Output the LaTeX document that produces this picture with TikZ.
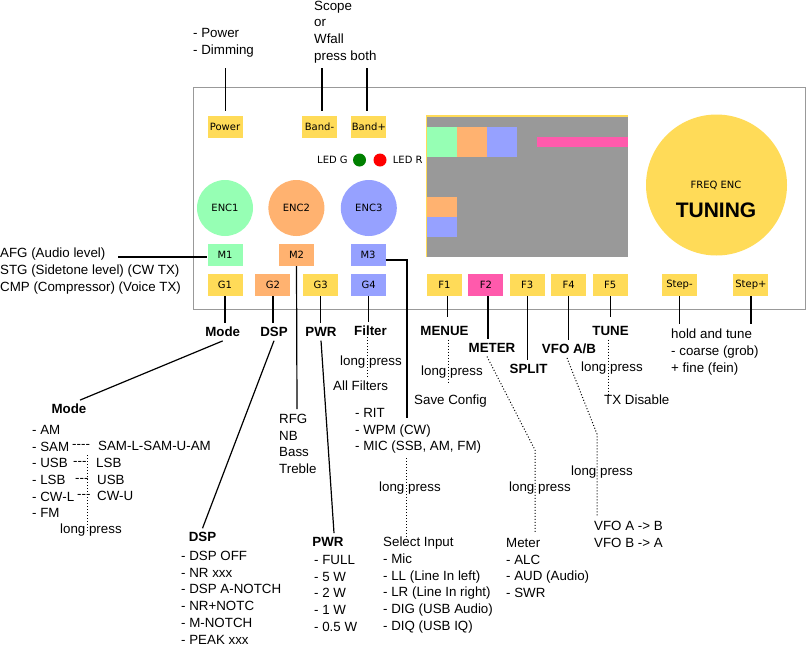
\documentclass[tikz,border=0pt]{standalone}
\usepackage{fontspec}
\setmainfont{Liberation Sans}[Ligatures=TeXOff]
\newfontfamily\btnfont{DejaVu Sans}
\usepackage{tikz}
\usetikzlibrary{positioning}
\definecolor{yelclr}{RGB}{255,219,88}
\definecolor{grnclr}{RGB}{150,255,180}
\definecolor{orgclr}{RGB}{255,178,112}
\definecolor{bluclr}{RGB}{150,161,255}
\definecolor{pnkclr}{RGB}{255,90,172}
\definecolor{scrclr}{RGB}{153,153,153}
\definecolor{boxclr}{RGB}{153,153,153}
\definecolor{ledgclr}{RGB}{0,128,0}
\definecolor{ledrclr}{RGB}{255,0,0}
\tikzset{ %
  ,every node/.style={inner sep=0}
  ,btn/.style={fill=yelclr, minimum width=35pt, minimum height=22pt, node distance=12.5pt, font=\btnfont\fontsize{10}{12}\selectfont}
  ,enc/.style={circle, minimum size=56pt, font=\btnfont\fontsize{10}{12}\selectfont}
  ,led/.style={circle, minimum size=13pt}
  ,ledtxt/.style={anchor=west, font=\btnfont\fontsize{10}{12}\selectfont}
  ,txt/.style={anchor=west, font=\fontsize{13.33}{16.7}\selectfont}
  ,lst/.style={anchor=north west, align=left, font=\fontsize{13.33}{16.7}\selectfont}
  ,hd/.style={outer sep=4pt, font=\bfseries\fontsize{13.33}{16.7}\selectfont}
  ,wire/.style={line width=1.2pt}
  ,dotwire/.style={dotted, line width=1pt}
}

\begin{document}
\begin{tikzpicture}[x=1pt, y=-1pt]
  \useasboundingbox (0,0) rectangle (806,646);

  % panel and screen
  \draw[boxclr, line width=1pt] (193,87) rectangle (805,309);
  \fill[yelclr] (426,115) rectangle (628,257);
  \fill[scrclr] (427,117) rectangle (628,257);
  \fill[grnclr] (427,127) rectangle (457,157);
  \fill[orgclr] (457,127) rectangle (487,157);
  \fill[bluclr] (487,127) rectangle (517,157);
  \fill[pnkclr] (537,137) rectangle (628,147);
  \fill[orgclr] (427,197) rectangle (457,217);
  \fill[bluclr] (427,217) rectangle (457,237);

  % buttons and encoders
  \node[btn] (pwr) at (225,127) {Power};
  \node[btn] (bandm) at (319.5,127) {Band-};
  \node[btn, right=14pt of bandm] (bandp) {Band+};
  \node[ledtxt] (ledgtxt) at (317,160) {LED G};
  \node[led, fill=ledgclr] (ledg) at (359.5,160) {};
  \node[led, fill=ledrclr] (ledr) at (380,160) {};
  \node[ledtxt] (ledrtxt) at (392.7,160) {LED R};
  \node[enc, fill=grnclr] (enc1) at (225,208) {ENC1};
  \node[enc, fill=orgclr, right=15pt of enc1] (enc2) {ENC2};
  \node[enc, fill=bluclr, right=16pt of enc2] (enc3) {ENC3};
  \node[btn, fill=grnclr] (m1) at (225,255) {M1};
  \node[btn, fill=orgclr] (m2) at (296.5,255) {M2};
  \node[btn, fill=bluclr] (m3) at (368,255) {M3};
  \node[btn] (g1) at (225,285) {G1};
  \node[btn, fill=orgclr, right=of g1] (g2) {G2};
  \node[btn, right=of g2] (g3) {G3};
  \node[btn, fill=bluclr, right=of g3] (g4) {G4};
  \node[btn] (f1) at (444.5,285) {F1};
  \node[btn, fill=pnkclr, right=6pt of f1] (f2) {F2};
  \node[btn, right=6pt of f2] (f3) {F3};
  \node[btn, right=6pt of f3] (f4) {F4};
  \node[btn, right=6pt of f4] (f5) {F5};
  \node[btn] (stepm) at (679.5,285) {Step-};
  \node[btn, right=36pt of stepm] (stepp) {Step+};
  \node[enc, fill=yelclr, minimum size=141pt] (freq) at (716.5,185) {};
  \node[font=\btnfont\fontsize{10}{12}\selectfont] (freqtxt) at (716,185) {FREQ ENC};
  \node[font=\bfseries\fontsize{21}{24}\selectfont] (tuning) at (716,210) {TUNING};

  % top notes
  \node[lst] (pwrnote) at (193,28) {- Power\\- Dimming};
  \node[lst] (bandnote) at (314,0.7) {Scope\\or\\Wfall\\press both};
  \coordinate (pwrtop) at (225.7,68);
  \coordinate (bandmtop) at (322,68);
  \coordinate (bandptop) at (367,68);
  \draw[wire, shorten >=5pt] (pwrtop) -- (pwrtop |- pwr.north);
  \draw[wire, shorten >=5pt] (bandmtop) -- (bandmtop |- bandm.north);
  \draw[wire, shorten >=5pt] (bandptop) -- (bandptop |- bandp.north);

  % M row
  \node[lst] (afgnote) at (0,248) {AFG (Audio level)\\STG (Sidetone level) (CW TX)\\CMP (Compressor) (Voice TX)};
  \coordinate (afgend) at (118,257);
  \draw[wire] (afgend) -- (afgend -| m1.west);
  \coordinate (m2end) at (297,409);
  \draw[wire] (m2.south) -- (m2end);
  \node[lst] (m2note) at (279,414) {RFG\\NB\\Bass\\Treble};
  \coordinate (m3end) at (407,418);
  \draw[wire] ([yshift=-5pt]m3.east) -| (m3end);
  \node[lst] (m3note) at (355,408) {- RIT\\- WPM (CW)\\- MIC (SSB, AM, FM)};
  \coordinate (mictop) at (406,458);
  \node[txt] (miclp) at (379,488) {long press};
  \node[lst] (inplst) at (383,537) {Select Input\\- Mic\\- LL (Line In left)\\- LR (Line In right)\\- DIG (USB Audio)\\- DIQ (USB IQ)};
  \draw[dotwire] (mictop) -- (mictop |- inplst.north);

  % G row
  \node[hd] (lmode) at (222.7,332) {Mode};
  \node[hd] (ldsp) at (274,332) {DSP};
  \node[hd] (lpwr) at (321,332) {PWR};
  \node[hd] (lfilter) at (370.5,331) {Filter};
  \draw[wire] (g1.south) -- (g1.south |- lmode.north);
  \draw[wire] (g2.south) -- (g2.south |- ldsp.north);
  \draw[wire] (g3.south) -- (g3.south |- lpwr.north);
  \draw[wire] (g4.south) -- (g4.south |- lfilter.north);
  \node[txt] (fltlp) at (340,362) {long press};
  \node[txt] (fltall) at (333,386) {All Filters};
  \coordinate (flttop) at (367,337);
  \draw[dotwire, shorten >=3pt] (flttop) -- (flttop |- fltall.north);

  \node[hd] (hmode) at (69,409) {Mode};
  \draw[wire] (lmode.south) -- ([xshift=11pt]hmode.north);
  \node[lst] (modelst) at (32,425) {- AM\\- SAM\\- USB\\- LSB\\- CW-L\\- FM};
  \node[txt] (samdash) at (72,446) {----};
  \node[txt] (samalt) at (98,446) {SAM-L-SAM-U-AM};
  \node[txt] (usbdash) at (73,463) {---};
  \node[txt] (usbalt) at (96,463) {LSB};
  \node[txt] (lsbdash) at (75,480) {---};
  \node[txt] (lsbalt) at (97,480) {USB};
  \node[txt] (cwdash) at (77,496) {---};
  \node[txt] (cwalt) at (97,496) {CW-U};
  \node[txt] (modelp) at (60,530) {long press};
  \coordinate (modetop) at (87.7,455);
  \coordinate (modeend) at (87.7,532);
  \draw[dotwire] (modetop) -- (modeend);

  \node[hd] (hdsp) at (202.5,537) {DSP};
  \draw[wire] (ldsp.south) -- (hdsp.north);
  \node[lst] (dsplst) at (181,551) {- DSP OFF\\- NR xxx\\- DSP A-NOTCH\\- NR+NOTC\\- M-NOTCH\\- PEAK xxx};

  \node[hd] (hpwr) at (328,541.7) {PWR};
  \draw[wire] (lpwr.south) -- ([xshift=6pt]hpwr.north);
  \node[lst] (pwrlst) at (314,555) {- FULL\\- 5 W\\- 2 W\\- 1 W\\- 0.5 W};

  % F row
  \node[hd] (lmenue) at (444.5,331) {MENUE};
  \node[hd] (lmeter) at (492,348) {METER};
  \node[hd] (lsplit) at (528.5,369) {SPLIT};
  \node[hd] (lvfo) at (569,349) {VFO A/B};
  \node[hd] (ltune) at (610.5,331) {TUNE};
  \draw[wire, shorten >=5pt] ([xshift=3pt]f1.south) -- ([xshift=3pt]f1.south |- lmenue.north);
  \draw[wire] ([xshift=2pt]f2.south) -- ([xshift=2pt]f2.south |- lmeter.north);
  \draw[wire] (f3.south) -- (f3.south |- lsplit.north);
  \draw[wire] (f4.south) -- (f4.south |- lvfo.north);
  \draw[wire, shorten >=5pt] (f5.south) -- (f5.south |- ltune.north);

  \node[txt] (menulp) at (421,372) {long press};
  \node[txt] (savecfg) at (414,401) {Save Config};
  \draw[dotwire, shorten >=10pt] ([xshift=3.5pt]lmenue.south) -- ([xshift=3.5pt]lmenue.south |- savecfg.north);

  \coordinate (mtrbend) at (535,450);
  \node[txt] (mtrlp) at (509,488) {long press};
  \node[lst] (mtrlst) at (506,538) {Meter\\- ALC\\- AUD (Audio)\\- SWR};
  \draw[dotwire, shorten >=5pt] ([xshift=-5pt]lmeter.south) -- (mtrbend) -- (mtrbend |- mtrlst.north);

  \coordinate (vfobend) at (597,434);
  \node[txt] (vfolp) at (571,472) {long press};
  \node[lst] (vfolst) at (594,521) {VFO A -> B\\VFO B -> A};
  \draw[dotwire, shorten >=5pt] ([xshift=-2pt]lvfo.south) -- (vfobend) -- (vfobend |- vfolst.north);

  \node[txt] (tunelp) at (581,368) {long press};
  \node[txt] (txdis) at (604,400) {TX Disable};
  \draw[dotwire] ([xshift=-2.5pt]ltune.south) -- ([xshift=-2.5pt]ltune.south |- txdis.north);

  \node[lst] (stepnote) at (671,329) {hold and tune\\- coarse (grob)\\+ fine (fein)};
  \draw[wire, shorten >=5pt] (stepm.south) -- (stepm.south |- stepnote.north);
  \draw[wire, shorten >=5pt] (stepp.south) -- (stepp.south |- stepnote.north);
\end{tikzpicture}
\end{document}
